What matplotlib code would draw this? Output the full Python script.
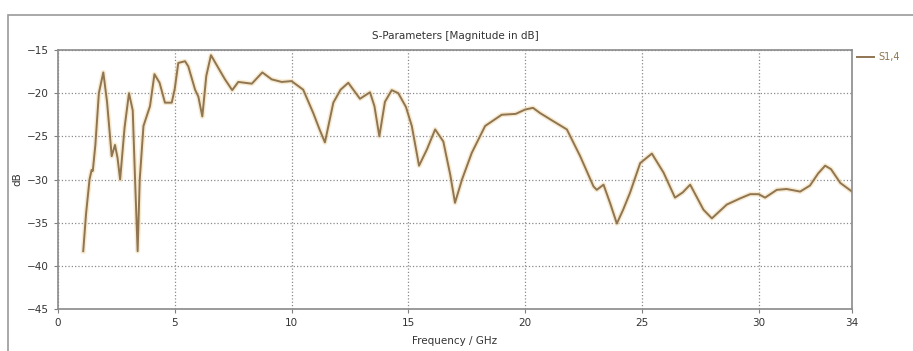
import numpy as np
import matplotlib.pyplot as plt
from matplotlib.patches import Rectangle

# S1,4 magnitude
freq = [1.08, 1.2, 1.35, 1.44, 1.49, 1.6, 1.75, 1.94, 2.1, 2.3, 2.44, 2.55, 2.66,
        2.85, 3.04, 3.2, 3.3, 3.41, 3.5, 3.66, 3.94, 4.13, 4.35, 4.58, 4.87, 5.0,
        5.15, 5.44, 5.58, 5.87, 6.01, 6.18, 6.35, 6.55, 6.87, 7.15, 7.46, 7.72, 8.3,
        8.75, 9.15, 9.58, 10.0, 10.5, 10.93, 11.2, 11.43, 11.79, 12.1, 12.43, 12.93,
        13.36, 13.55, 13.76, 14.0, 14.29, 14.57, 14.9, 15.15, 15.46, 15.8, 16.15,
        16.5, 16.8, 17.0, 17.3, 17.72, 18.29, 19.0, 19.6, 20.0, 20.34, 20.64, 21.21,
        21.79, 22.36, 22.93, 23.07, 23.36, 23.65, 23.93, 24.2, 24.5, 24.93, 25.43,
        25.93, 26.42, 26.75, 27.07, 27.64, 28.0, 28.64, 29.2, 29.64, 30.0, 30.28,
        30.78, 31.2, 31.78, 32.2, 32.55, 32.85, 33.1, 33.5, 34.0]
s14 = [-38.3, -34.0, -30.0, -28.9, -29.0, -26.0, -20.0, -17.6, -21.0, -27.3, -26.0,
       -27.5, -30.0, -24.0, -20.0, -22.0, -30.0, -38.3, -30.0, -23.8, -21.5, -17.8,
       -18.8, -21.1, -21.1, -19.5, -16.5, -16.3, -16.9, -19.6, -20.4, -22.7, -18.0,
       -15.6, -17.1, -18.4, -19.65, -18.7, -18.9, -17.6, -18.4, -18.7, -18.6, -19.6,
       -22.3, -24.2, -25.7, -21.1, -19.6, -18.8, -20.65, -19.9, -21.5, -25.0, -21.0,
       -19.65, -20.0, -21.6, -23.8, -28.4, -26.5, -24.2, -25.6, -29.5, -32.7, -30.0,
       -26.9, -23.8, -22.5, -22.4, -21.9, -21.7, -22.3, -23.25, -24.2, -27.3, -30.8,
       -31.2, -30.6, -32.8, -35.1, -33.5, -31.5, -28.1, -27.0, -29.2, -32.1, -31.5,
       -30.6, -33.5, -34.5, -32.9, -32.2, -31.7, -31.7, -32.1, -31.2, -31.1, -31.4,
       -30.7, -29.3, -28.4, -28.8, -30.4, -31.4]

x_ticks = [0, 5, 10, 15, 20, 25, 30, 34]
y_ticks = [-45, -40, -35, -30, -25, -20, -15]

fig = plt.figure(figsize=(9.13, 3.51), dpi=100)
fig.patches.append(Rectangle((8 / 913, -0.01), 1.0, (351 - 15) / 351 + 0.01,
                             transform=fig.transFigure, fill=False,
                             edgecolor='#9a9a9a', linewidth=1.2))

ax = fig.add_axes([58 / 913, 42 / 351, 794 / 913, 259 / 351])
ax.plot(freq, s14, color='#f3dcb0', linewidth=3.5, alpha=0.6)
ax.plot(freq, s14, color='#8f7552', linewidth=1.4, label='S1,4')

ax.set_xlim(0, 34)
ax.set_ylim(-45, -15)
ax.set_xticks(x_ticks)
ax.set_yticks(y_ticks)
ax.tick_params(labelsize=7.5, length=3, color='#808080', labelcolor='#333333')
ax.grid(True, linestyle=':', color='#8a8a8a', linewidth=0.9)
for s in ax.spines.values():
    s.set_color('#8a8a8a')
    s.set_linewidth(1.2)

ax.set_title('S-Parameters [Magnitude in dB]', fontsize=7.5, color='#333333', pad=8)
ax.set_xlabel('Frequency / GHz', fontsize=7.5, color='#333333', labelpad=6)
ax.set_ylabel('dB', fontsize=7.5, color='#333333')
ax.yaxis.set_label_coords(-36 / 794, 0.5)

fig.legend([ax.lines[1]], ['S1,4'], loc='upper left', bbox_to_anchor=(855 / 913, 1 - 50 / 351),
           frameon=False, fontsize=7, handlelength=1.8, handletextpad=0.4,
           borderaxespad=0, borderpad=0.2, labelcolor='#8f7552')

fig.savefig('out.png', dpi=100)
